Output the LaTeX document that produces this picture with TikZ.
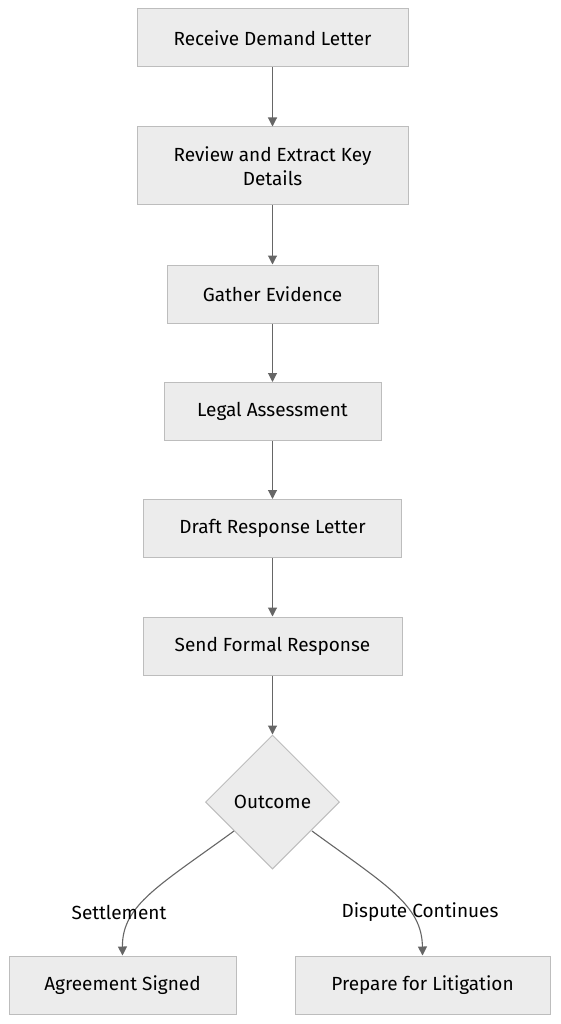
\documentclass[tikz,border=0pt]{standalone}
\usepackage{fontspec}
\setmainfont{Fira Sans}
\usetikzlibrary{arrows.meta,shapes.geometric}
\definecolor{boxfill}{HTML}{ECECEC}
\definecolor{boxline}{HTML}{BDBDBD}
\definecolor{edgecol}{HTML}{666666}
\tikzset{
  stepbox/.style={draw=boxline, fill=boxfill, line width=1pt, rectangle, align=center,
    inner sep=0pt, font=\fontsize{19}{24}\selectfont, text=black},
  decide/.style={draw=boxline, fill=boxfill, line width=1pt, diamond, aspect=1,
    inner sep=0pt, minimum width=134pt, minimum height=134pt, font=\fontsize{19}{24}\selectfont},
  flow/.style={draw=edgecol, line width=1.1pt, -{Triangle[length=9pt,width=9pt]}},
  elabel/.style={font=\fontsize{19}{24}\selectfont, text=black}
}
\begin{document}
\begin{tikzpicture}[x=1pt,y=-1pt]
\useasboundingbox (0,0) rectangle (560,1024);
\node[stepbox, minimum width=271pt, minimum height=58pt] (a) at (272.5,38) {Receive Demand Letter};
\node[stepbox, minimum width=271pt, minimum height=78pt] (b) at (272.5,166) {Review and Extract Key\\Details};
\node[stepbox, minimum width=211pt, minimum height=58pt] (c) at (272.5,294) {Gather Evidence};
\node[stepbox, minimum width=217pt, minimum height=58pt] (d) at (272.5,411.5) {Legal Assessment};
\node[stepbox, minimum width=258pt, minimum height=58pt] (e) at (272.5,528.5) {Draft Response Letter};
\node[stepbox, minimum width=259pt, minimum height=58pt] (f) at (272.5,646) {Send Formal Response};
\node[decide] (g) at (272.5,802) {Outcome};
\node[stepbox, minimum width=227pt, minimum height=58pt] (h) at (122.5,985) {Agreement Signed};
\node[stepbox, minimum width=255pt, minimum height=58pt] (i) at (422.5,985) {Prepare for Litigation};
\coordinate (gl) at (234,831);
\coordinate (gr) at (312,831);
\draw[flow] (a) -- (b);
\draw[flow] (b) -- (c);
\draw[flow] (c) -- (d);
\draw[flow] (d) -- (e);
\draw[flow] (e) -- (f);
\draw[flow] (f) -- (g);
\draw[flow] (gl) .. controls (160,885) and (122,905) .. (h.north);
\draw[flow] (gr) .. controls (386,885) and (422,905) .. (i.north);
\node[elabel] (ls) at (119,912) {Settlement};
\node[elabel] (lr) at (420,912) {Dispute Continues};
\end{tikzpicture}
\end{document}
